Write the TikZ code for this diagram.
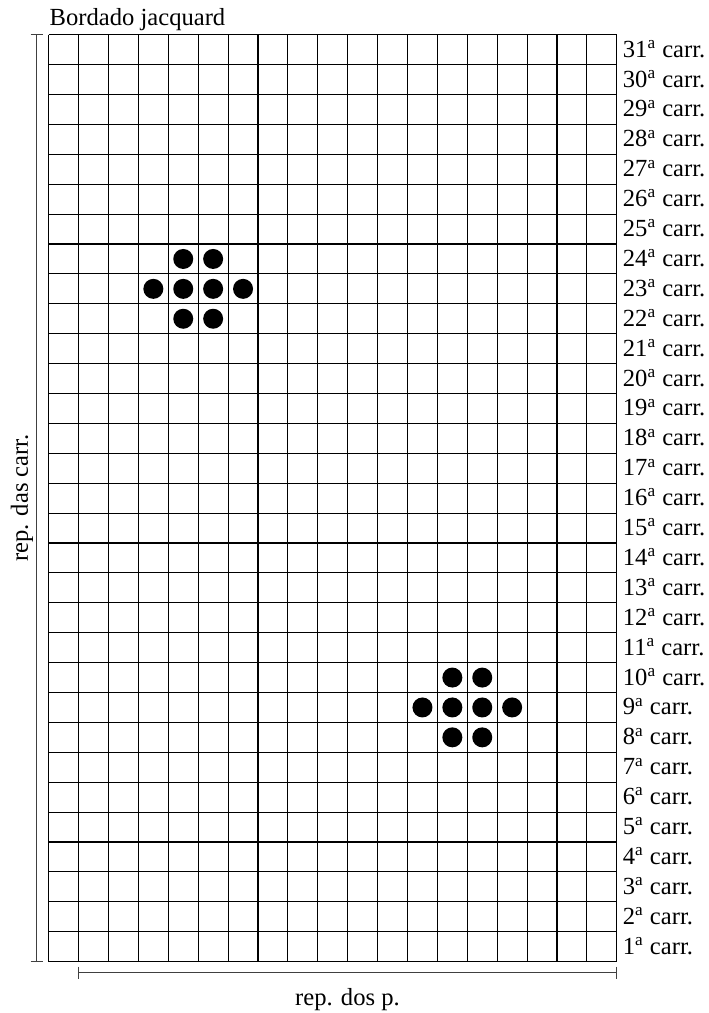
\documentclass[tikz,border=0pt]{standalone}
\usepackage{fontspec}
\setmainfont{Liberation Serif}
\usetikzlibrary{positioning}
\tikzset{
  gridline/.style = {
    line width=0.55pt,
    black
  },
  bracketline/.style = {
    line width=0.45pt,
    black!75
  },
  jqlabel/.style = {
    inner sep=0pt,
    font=\fontsize{12.3}{14}\selectfont
  },
  carrlabel/.style = {
    jqlabel,
    anchor=base west
  },
  jqdot/.style = {
    fill=black
  }
}
\newcommand{\celw}{29.9}

\begin{document}
\begin{tikzpicture}[x=0.5pt, y=-0.5pt]
    \useasboundingbox (0,0) rectangle (708,1013);
    % grade de 19 x 31 casas
    \coordinate (gridNW) at (48.7,34.7);
    \coordinate (gridSE) at (616.8,961.6);
    \foreach \i in {0,...,19}
      \draw[gridline] ({48.7+\i*\celw},34.7) -- ({48.7+\i*\celw},961.6);
    \foreach \j in {0,...,31}
      \draw[gridline] (48.7,{34.7+\j*\celw}) -- (616.8,{34.7+\j*\celw});
    % pontos do bordado
    \foreach \c/\k in {4/24,5/24,3/23,4/23,5/23,6/23,4/22,5/22,
                       13/10,14/10,12/9,13/9,14/9,15/9,13/8,14/8}
      \fill[jqdot] ({48.7+(\c+0.5)*\celw},{34.7+(31-\k+0.5)*\celw}) circle[radius=5pt];
    % carreiras
    \foreach \k in {1,...,31}
      \node[carrlabel] (carr\k) at (622.5,{34.7+(31-\k+0.5)*\celw+7.5}) {\k\textsuperscript{a} carr.};
    % repeticoes
    \coordinate (repcarrN) at (36.7,34.7);
    \coordinate (repcarrS) at (36.7,961.6);
    \draw[bracketline] (repcarrN) -- (repcarrS);
    \draw[bracketline] ([xshift=-3pt]repcarrN) -- ([xshift=3pt]repcarrN);
    \draw[bracketline] ([xshift=-3pt]repcarrS) -- ([xshift=3pt]repcarrS);
    \coordinate (reppW) at (78.6,972.7);
    \coordinate (reppE) at (616.5,972.7);
    \draw[bracketline] (reppW) -- (reppE);
    \draw[bracketline] ([yshift=3pt]reppW) -- ([yshift=-3pt]reppW);
    \draw[bracketline] ([yshift=3pt]reppE) -- ([yshift=-3pt]reppE);
    \node[jqlabel, rotate=90] (repcarr) at (22,498) {rep. das carr.};
    \node[jqlabel, anchor=base] (repp) at (347.5,1005) {rep. dos p.};
    \node[jqlabel, anchor=base west] (title) at (49.3,25) {Bordado jacquard};
  \end{tikzpicture}
\end{document}
